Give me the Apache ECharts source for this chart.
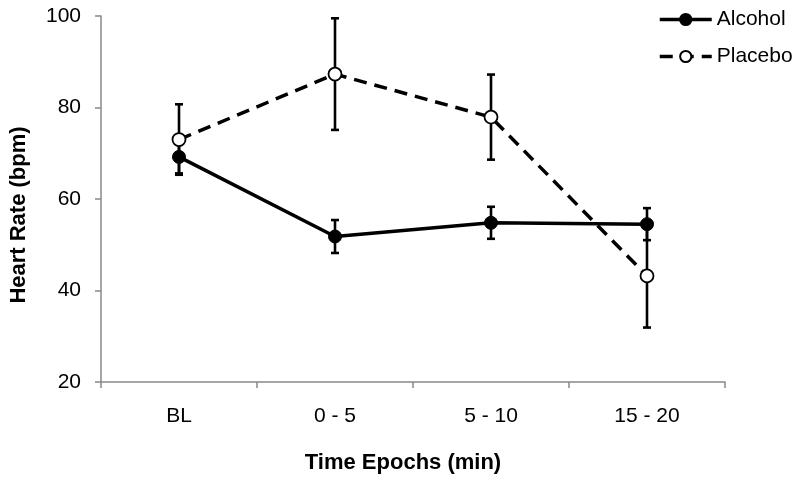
<!DOCTYPE html>
<html>
<head>
<meta charset="utf-8">
<script src="https://cdn.jsdelivr.net/npm/echarts@6/dist/echarts.min.js"></script>
<style>html,body{margin:0;padding:0;background:#fff;}#c{width:800px;height:482px;}</style>
</head>
<body>
<div id="c"></div>
<script>
const categories = ['BL', '0 - 5', '5 - 10', '15 - 20'];
const alcohol = [69.2, 51.8, 54.8, 54.5];
const alcoholErr = [3.6, 3.6, 3.5, 3.5];
const placebo = [73.0, 87.3, 77.9, 43.2];
const placeboErr = [7.7, 12.2, 9.3, 11.3];
const yTicks = { min: 20, max: 100, interval: 20 };

const FONT = "'Liberation Sans', Arial, Helvetica, sans-serif";

function errData(vals, errs) {
  return vals.map((v, i) => [i, v - errs[i], v + errs[i]]);
}
function renderErr(params, api) {
  const i = api.value(0);
  const lo = api.coord([i, api.value(1)]);
  const hi = api.coord([i, api.value(2)]);
  const hw = 4;
  const st = { stroke: '#000', lineWidth: 2.6 };
  return {
    type: 'group',
    children: [
      { type: 'line', shape: { x1: lo[0], y1: lo[1], x2: hi[0], y2: hi[1] }, style: st },
      { type: 'line', shape: { x1: lo[0] - hw, y1: lo[1], x2: lo[0] + hw, y2: lo[1] }, style: st },
      { type: 'line', shape: { x1: hi[0] - hw, y1: hi[1], x2: hi[0] + hw, y2: hi[1] }, style: st }
    ]
  };
}

const chart = echarts.init(document.getElementById('c'), null, { renderer: 'canvas' });
chart.setOption({
  animation: false,
  backgroundColor: '#fff',
  textStyle: { fontFamily: FONT },
  grid: { left: 94, right: 75, top: 16, bottom: 100, containLabel: false },
  legend: {
    orient: 'vertical',
    left: 653,
    top: 4,
    itemWidth: 52,
    itemHeight: 14,
    itemGap: 16,
    lineStyle: { width: 3.5 },
    textStyle: { fontFamily: FONT, fontSize: 21, color: '#000' },
    data: ['Alcohol', 'Placebo']
  },
  xAxis: {
    type: 'category',
    data: categories,
    boundaryGap: true,
    axisLine: { lineStyle: { color: '#888', width: 1.5 } },
    axisTick: { show: true, length: 6, lineStyle: { color: '#888', width: 1.5 } },
    axisLabel: { fontSize: 21, color: '#000', margin: 24, fontFamily: FONT },
    name: 'Time Epochs (min)',
    nameLocation: 'middle',
    nameGap: 70,
    nameTextStyle: { fontSize: 22, fontWeight: 'bold', color: '#000', fontFamily: FONT, padding: [0, 20, 0, 0] }
  },
  yAxis: {
    type: 'value',
    min: yTicks.min,
    max: yTicks.max,
    interval: yTicks.interval,
    splitLine: { show: false },
    axisLine: { show: true, lineStyle: { color: '#888', width: 1.5 } },
    axisTick: { show: true, length: 6, lineStyle: { color: '#888', width: 1.5 } },
    axisLabel: { fontSize: 21, color: '#000', margin: 20, fontFamily: FONT },
    name: 'Heart Rate (bpm)',
    nameLocation: 'middle',
    nameGap: 71,
    nameTextStyle: { fontSize: 22, fontWeight: 'bold', color: '#000', fontFamily: FONT, padding: [0, 32, 0, 0] }
  },
  series: [
    {
      type: 'custom',
      name: 'AlcoholErr',
      renderItem: renderErr,
      data: errData(alcohol, alcoholErr),
      encode: { x: 0, y: [1, 2] },
      z: 1
    },
    {
      type: 'custom',
      name: 'PlaceboErr',
      renderItem: renderErr,
      data: errData(placebo, placeboErr),
      encode: { x: 0, y: [1, 2] },
      z: 1
    },
    {
      name: 'Placebo',
      type: 'line',
      data: placebo,
      symbol: 'circle',
      symbolSize: 13,
      lineStyle: { color: '#000', width: 3.5, type: [13, 8] },
      itemStyle: { color: '#fff', borderColor: '#000', borderWidth: 1.8 },
      z: 3
    },
    {
      name: 'Alcohol',
      type: 'line',
      data: alcohol,
      symbol: 'circle',
      symbolSize: 13,
      lineStyle: { color: '#000', width: 3.5 },
      itemStyle: { color: '#000', borderColor: '#000', borderWidth: 1 },
      z: 4
    }
  ]
});
</script>
</body>
</html>
